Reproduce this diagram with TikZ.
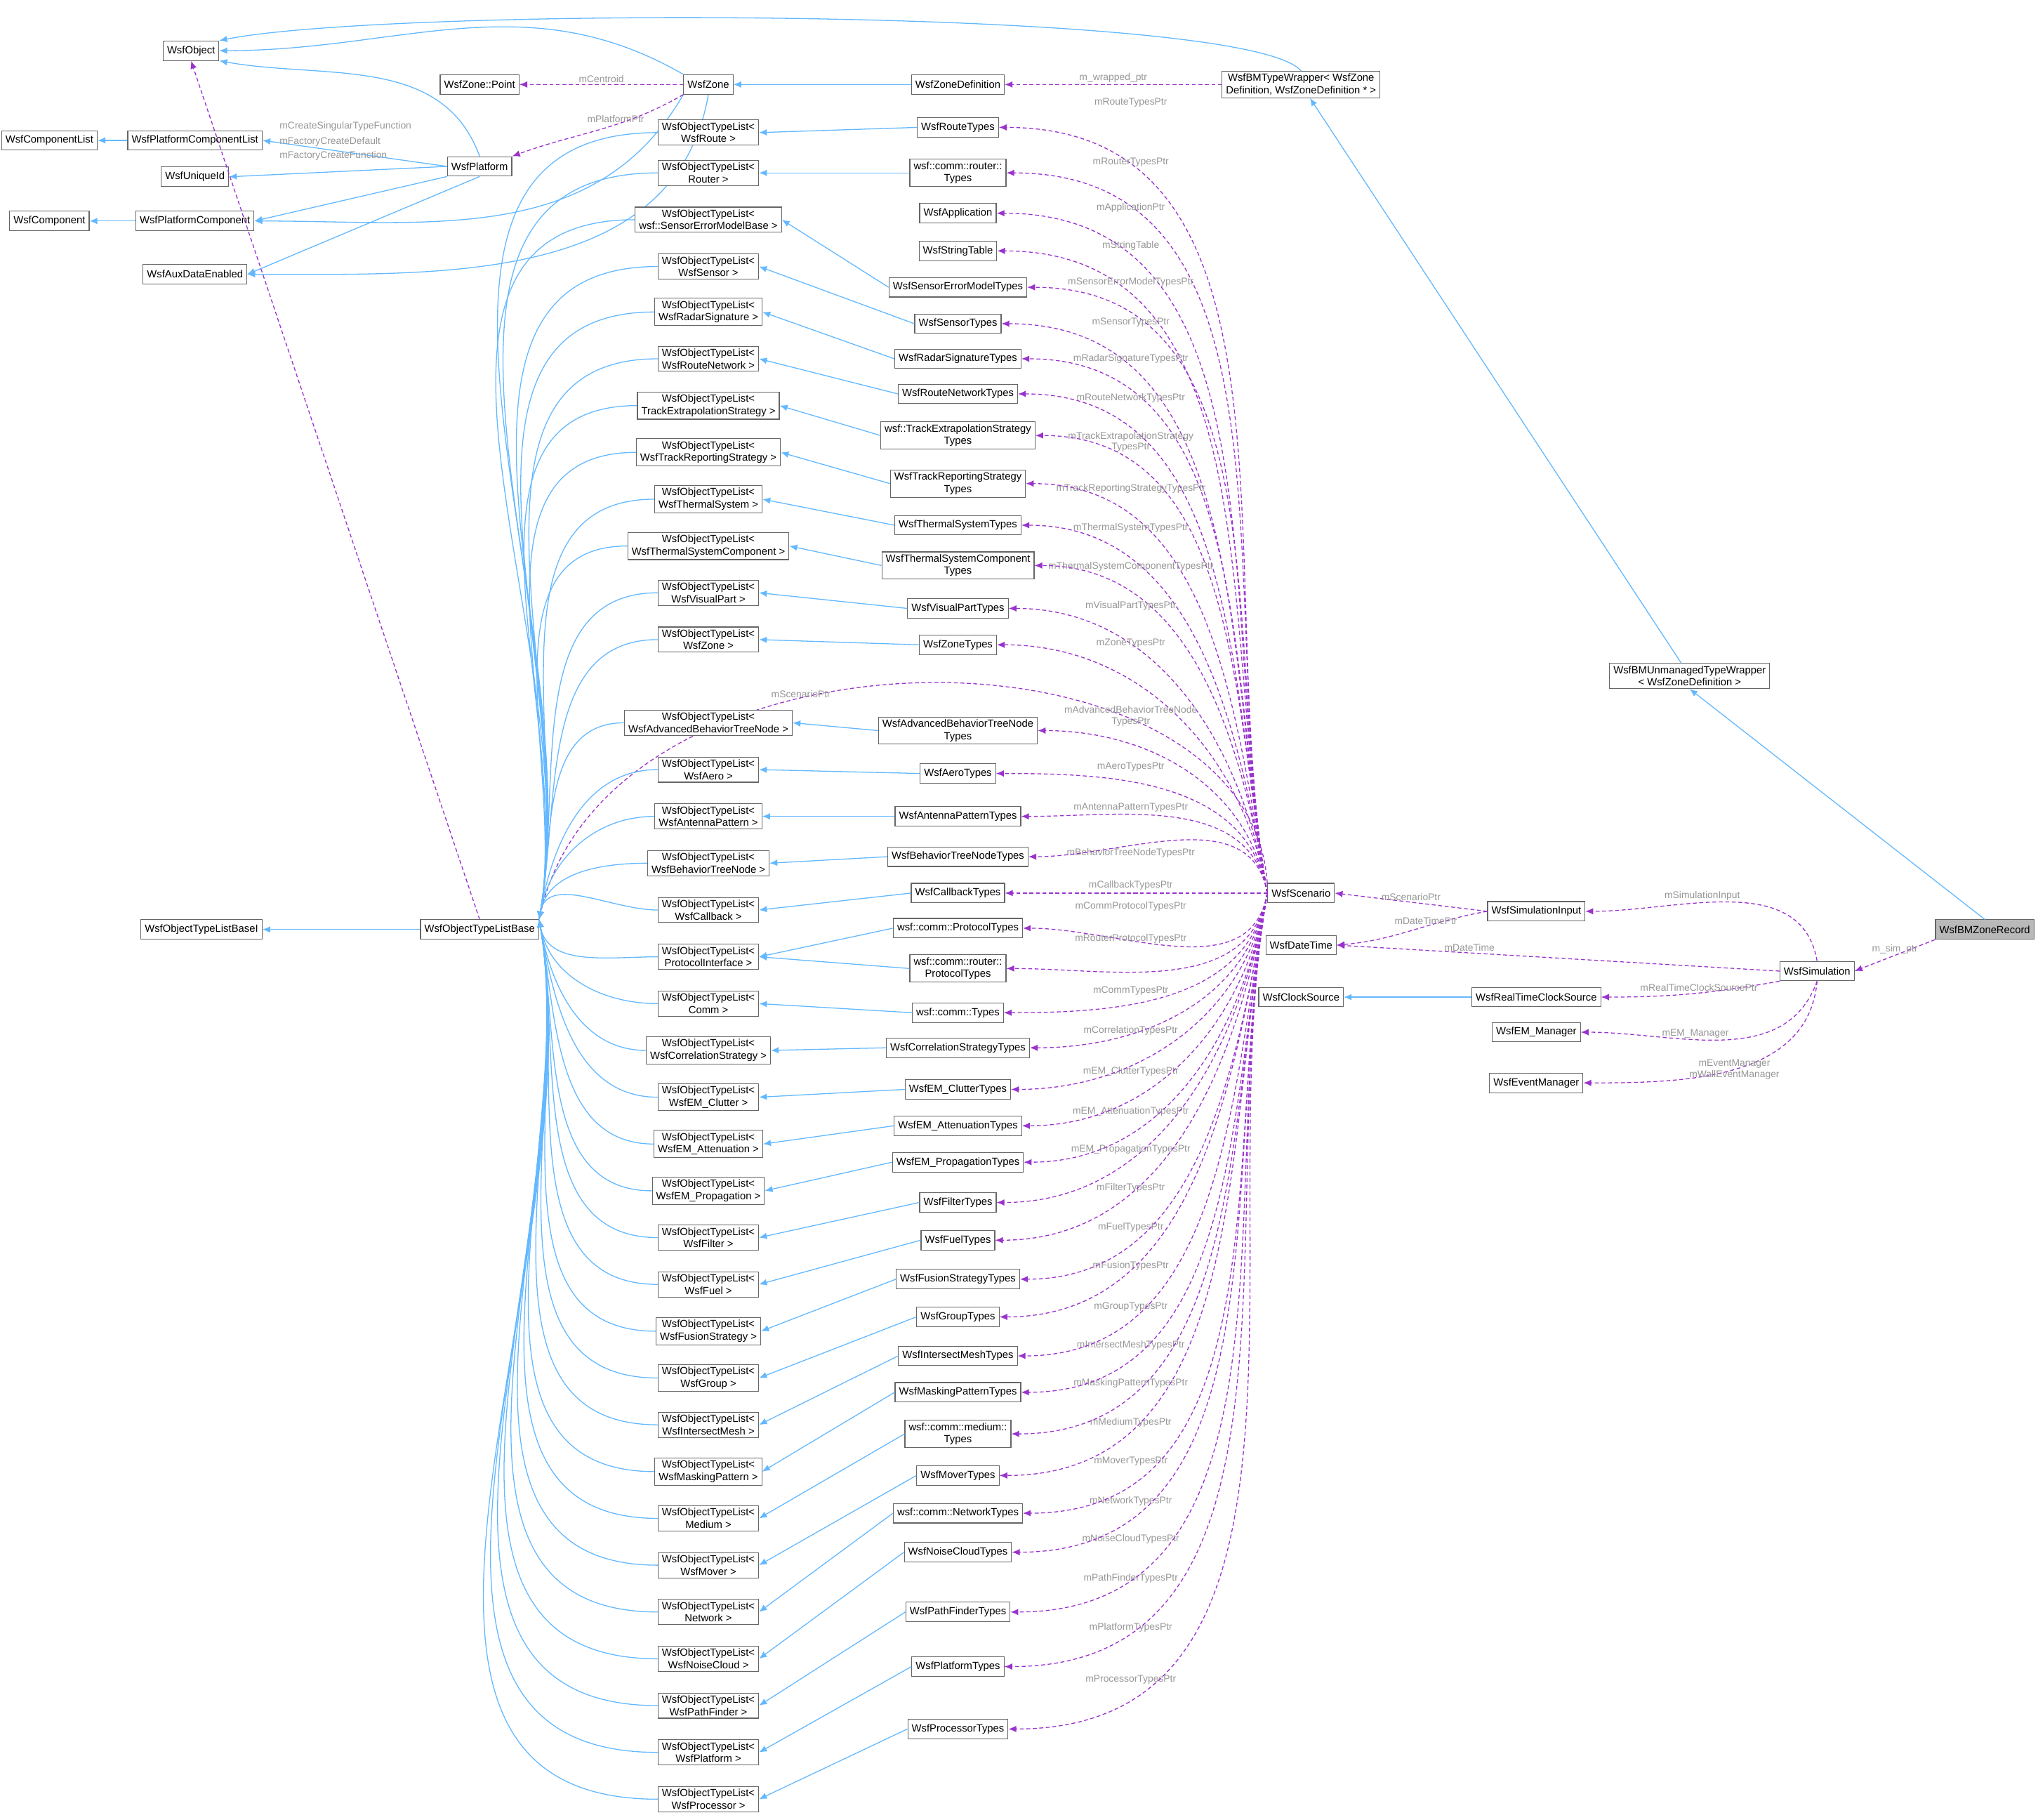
\documentclass[tikz,border=0pt]{standalone}
\usepackage{fontspec}
\setmainfont{Liberation Sans}
\usetikzlibrary{arrows.meta}
\definecolor{inhblue}{RGB}{99,184,255}
\definecolor{usepurple}{RGB}{154,50,205}
\definecolor{edgegray}{RGB}{102,102,102}
\definecolor{labgray}{RGB}{150,150,150}
\begin{document}
\begin{tikzpicture}[x=1pt,y=1pt,
    box/.style={draw=edgegray,fill=white,line width=0.6pt,align=center,font=\fontsize{8}{9.5}\selectfont,inner xsep=3pt,inner ysep=2pt,minimum height=15pt},
    inh/.style={draw=inhblue,line width=0.7pt,-{Latex[length=6pt,width=5pt]}},
    dep/.style={draw=usepurple,line width=0.7pt,dashed,dash pattern=on 3pt off 2pt,-{Latex[length=6pt,width=5pt]}},
    lab/.style={text=labgray,font=\fontsize{7.5}{8.5}\selectfont,align=center,inner sep=1pt}]
\useasboundingbox (0,0) rectangle (1568,-1400);
% top part
\node[box] (obj) at (147,-39) {WsfObject};
\node[box] (zpt) at (369,-65) {WsfZone::Point};
\node[box] (zone) at (545,-65) {WsfZone};
\node[box] (zdef) at (737,-65) {WsfZoneDefinition};
\node[box] (bmw) at (1001,-65) {WsfBMTypeWrapper< WsfZone\\Definition, WsfZoneDefinition * >};
\node[box] (cl) at (38,-108) {WsfComponentList};
\node[box] (pcl) at (150,-108) {WsfPlatformComponentList};
\node[box] (uid) at (150,-136) {WsfUniqueId};
\node[box] (plat) at (369,-128) {WsfPlatform};
\node[box] (comp) at (38,-170) {WsfComponent};
\node[box] (pcomp) at (150,-170) {WsfPlatformComponent};
\node[box] (aux) at (150,-211) {WsfAuxDataEnabled};
\node[box] (basei) at (155,-715) {WsfObjectTypeListBaseI};
\node[box] (base) at (369,-715) {WsfObjectTypeListBase};
\node[box] (unm) at (1300,-520) {WsfBMUnmanagedTypeWrapper\\< WsfZoneDefinition >};
\node[box,fill=gray!55] (rec) at (1527,-715) {WsfBMZoneRecord};
\node[box] (sc) at (1001,-687) {WsfScenario};
\node[box] (simin) at (1182,-701) {WsfSimulationInput};
\node[box] (dt) at (1001,-727) {WsfDateTime};
\node[box] (sim) at (1398,-747) {WsfSimulation};
\node[box] (clk) at (1001,-767) {WsfClockSource};
\node[box] (rtc) at (1182,-767) {WsfRealTimeClockSource};
\node[box] (emm) at (1182,-794) {WsfEM\_Manager};
\node[box] (evm) at (1182,-833) {WsfEventManager};

\draw[inh] (zone.north west) to[out=150,in=0] (obj.east);
\draw[inh] (plat.north) to[out=110,in=-10] (obj.south east);
\draw[inh] (bmw.north) .. controls (960,-5) and (300,-5) .. (obj.north east);
\draw[inh] (zdef) -- (zone);
\draw[inh] (pcl) -- (cl);
\draw[inh] (plat.west) -- (pcl.east);
\draw[inh] (plat.west) -- (uid.east);
\draw[inh] (plat.south west) -- (pcomp.east);
\draw[inh] (pcomp) -- (comp);
\draw[inh] (plat.south) -- (aux.east);
\draw[inh] (zone.south west) to[out=-120,in=0] (pcomp.east);
\draw[inh] (zone.south) to[out=-100,in=0] (aux.east);
\draw[inh] (base) -- (basei);
\draw[inh] (unm) -- (bmw);
\draw[inh] (rec.north) -- (unm.south);
\draw[inh] (rtc) -- (clk);

\draw[dep] (zone) -- node[lab,above] {mCentroid} (zpt);
\draw[dep] (zone.south west) to[out=-150,in=20] node[lab,above,pos=0.4] {mPlatformPtr} (plat.north east);
\draw[dep] (base.north) -- (obj.south);
\node[lab,anchor=west] (lc1) at (214,-97) {mCreateSingularTypeFunction};
\node[lab,anchor=west] (lc2) at (214,-109) {mFactoryCreateDefault};
\node[lab,anchor=west] (lc3) at (214,-120) {mFactoryCreateFunction};
\draw[dep] (bmw.west) -- node[lab,above] {m\_wrapped\_ptr} (zdef.east);
\draw[dep] (sc.north west) .. controls (960,-470) and (470,-470) .. node[lab,pos=0.62,above] {mScenarioPtr} (base.north east);
\draw[dep] (simin.west) -- node[lab,above] {mScenarioPtr} (sc.east);
\draw[dep] (simin.west) to[out=190,in=5] node[lab,above,pos=0.4] {mDateTimePtr} (dt.east);
\draw[dep] (sim.north) to[out=100,in=0] node[lab,above,pos=0.6] {mSimulationInput} (simin.east);
\draw[dep] (sim.west) -- node[lab,above,pos=0.7] {mDateTime} (dt.east);
\draw[dep] (sim.south west) to[out=190,in=0] node[lab,above,pos=0.45] {mRealTimeClockSourcePtr} (rtc.east);
\draw[dep] (sim.south) to[out=-110,in=0] node[lab,above,pos=0.6] {mEM\_Manager} (emm.east);
\draw[dep] (sim.south) to[out=-95,in=0] node[lab,pos=0.5] {mEventManager\\mWallEventManager} (evm.east);
\draw[dep] (rec.south west) -- node[lab,above] {m\_sim\_ptr} (sim.east);

% type lists
\foreach \n/\y/\t in {
  1/102/{WsfObjectTypeList<\\WsfRoute >},
  2/133/{WsfObjectTypeList<\\Router >},
  4/169/{WsfObjectTypeList<\\wsf::SensorErrorModelBase >},
  6/205/{WsfObjectTypeList<\\WsfSensor >},
  7/240/{WsfObjectTypeList<\\WsfRadarSignature >},
  8/276/{WsfObjectTypeList<\\WsfRouteNetwork >},
  9/312/{WsfObjectTypeList<\\TrackExtrapolationStrategy >},
  10/348/{WsfObjectTypeList<\\WsfTrackReportingStrategy >},
  11/384/{WsfObjectTypeList<\\WsfThermalSystem >},
  12/420/{WsfObjectTypeList<\\WsfThermalSystemComponent >},
  13/456/{WsfObjectTypeList<\\WsfVisualPart >},
  14/492/{WsfObjectTypeList<\\WsfZone >},
  15/556/{WsfObjectTypeList<\\WsfAdvancedBehaviorTreeNode >},
  16/592/{WsfObjectTypeList<\\WsfAero >},
  17/628/{WsfObjectTypeList<\\WsfAntennaPattern >},
  18/664/{WsfObjectTypeList<\\WsfBehaviorTreeNode >},
  19/700/{WsfObjectTypeList<\\WsfCallback >},
  20/736/{WsfObjectTypeList<\\ProtocolInterface >},
  21/772/{WsfObjectTypeList<\\Comm >},
  22/808/{WsfObjectTypeList<\\WsfCorrelationStrategy >},
  23/844/{WsfObjectTypeList<\\WsfEM\_Clutter >},
  24/880/{WsfObjectTypeList<\\WsfEM\_Attenuation >},
  25/916/{WsfObjectTypeList<\\WsfEM\_Propagation >},
  26/952/{WsfObjectTypeList<\\WsfFilter >},
  27/988/{WsfObjectTypeList<\\WsfFuel >},
  28/1024/{WsfObjectTypeList<\\WsfFusionStrategy >},
  29/1060/{WsfObjectTypeList<\\WsfGroup >},
  30/1096/{WsfObjectTypeList<\\WsfIntersectMesh >},
  31/1132/{WsfObjectTypeList<\\WsfMaskingPattern >},
  32/1168/{WsfObjectTypeList<\\Medium >},
  33/1204/{WsfObjectTypeList<\\WsfMover >},
  34/1240/{WsfObjectTypeList<\\Network >},
  35/1276/{WsfObjectTypeList<\\WsfNoiseCloud >},
  36/1312/{WsfObjectTypeList<\\WsfPathFinder >},
  37/1348/{WsfObjectTypeList<\\WsfPlatform >},
  38/1384/{WsfObjectTypeList<\\WsfProcessor >}}
{
  \node[box] (L\n) at (545,-\y) {\t};
  \pgfmathsetmacro\ang{\y<715 ? 80 : -80}
  \draw[inh] (L\n.west) to[out=180,in=\ang] (base.north east);
}

% types used by the scenario
\foreach \n/\y/\t/\lab/\ly in {
  1/98/{WsfRouteTypes}/{mRouteTypesPtr}/79,
  2/133/{wsf::comm::router::\\Types}/{mRouterTypesPtr}/125,
  3/164/{WsfApplication}/{mApplicationPtr}/160,
  5/193/{WsfStringTable}/{mStringTable}/189,
  4/221/{WsfSensorErrorModelTypes}/{mSensorErrorModelTypesPtr}/217,
  6/249/{WsfSensorTypes}/{mSensorTypesPtr}/248,
  7/276/{WsfRadarSignatureTypes}/{mRadarSignatureTypesPtr}/276,
  8/303/{WsfRouteNetworkTypes}/{mRouteNetworkTypesPtr}/306,
  9/335/{wsf::TrackExtrapolationStrategy\\Types}/{mTrackExtrapolationStrategy\\TypesPtr}/340,
  10/372/{WsfTrackReportingStrategy\\Types}/{mTrackReportingStrategyTypesPtr}/376,
  11/404/{WsfThermalSystemTypes}/{mThermalSystemTypesPtr}/406,
  12/435/{WsfThermalSystemComponent\\Types}/{mThermalSystemComponentTypesPtr}/436,
  13/468/{WsfVisualPartTypes}/{mVisualPartTypesPtr}/466,
  14/496/{WsfZoneTypes}/{mZoneTypesPtr}/495,
  15/562/{WsfAdvancedBehaviorTreeNode\\Types}/{mAdvancedBehaviorTreeNode\\TypesPtr}/551,
  16/595/{WsfAeroTypes}/{mAeroTypesPtr}/590,
  17/628/{WsfAntennaPatternTypes}/{mAntennaPatternTypesPtr}/621,
  18/659/{WsfBehaviorTreeNodeTypes}/{mBehaviorTreeNodeTypesPtr}/656,
  19/687/{WsfCallbackTypes}/{mCallbackTypesPtr}/681,
  20/714/{wsf::comm::ProtocolTypes}/{mCommProtocolTypesPtr}/697,
  39/745/{wsf::comm::router::\\ProtocolTypes}/{mRouterProtocolTypesPtr}/722,
  21/779/{wsf::comm::Types}/{mCommTypesPtr}/762,
  22/806/{WsfCorrelationStrategyTypes}/{mCorrelationTypesPtr}/793,
  23/838/{WsfEM\_ClutterTypes}/{mEM\_ClutterTypesPtr}/824,
  24/866/{WsfEM\_AttenuationTypes}/{mEM\_AttenuationTypesPtr}/855,
  25/894/{WsfEM\_PropagationTypes}/{mEM\_PropagationTypesPtr}/884,
  26/925/{WsfFilterTypes}/{mFilterTypesPtr}/914,
  27/954/{WsfFuelTypes}/{mFuelTypesPtr}/944,
  28/984/{WsfFusionStrategyTypes}/{mFusionTypesPtr}/974,
  29/1013/{WsfGroupTypes}/{mGroupTypesPtr}/1005,
  30/1043/{WsfIntersectMeshTypes}/{mIntersectMeshTypesPtr}/1035,
  31/1071/{WsfMaskingPatternTypes}/{mMaskingPatternTypesPtr}/1064,
  32/1103/{wsf::comm::medium::\\Types}/{mMediumTypesPtr}/1094,
  33/1135/{WsfMoverTypes}/{mMoverTypesPtr}/1124,
  34/1164/{wsf::comm::NetworkTypes}/{mNetworkTypesPtr}/1155,
  35/1194/{WsfNoiseCloudTypes}/{mNoiseCloudTypesPtr}/1184,
  36/1240/{WsfPathFinderTypes}/{mPathFinderTypesPtr}/1214,
  37/1282/{WsfPlatformTypes}/{mPlatformTypesPtr}/1252,
  38/1330/{WsfProcessorTypes}/{mProcessorTypesPtr}/1292}
{
  \node[box] (T\n) at (737,-\y) {\t};
  \node[lab] (M\n) at (870,-\ly) {\lab};
  \pgfmathsetmacro\ang{\y<670 ? 100 : (\y>705 ? 260 : 180)}
  \draw[dep] (sc.west) to[out=\ang,in=0] (T\n.east);
}
\foreach \a/\b in {1/1,2/2,4/4,6/6,7/7,8/8,9/9,10/10,11/11,12/12,13/13,14/14,15/15,16/16,17/17,18/18,19/19,20/20,39/20,21/21,22/22,23/23,24/24,25/25,26/26,27/27,28/28,29/29,30/30,31/31,32/32,33/33,34/34,35/35,36/36,37/37,38/38}
  \draw[inh] (T\a.west) -- (L\b.east);
\end{tikzpicture}
\end{document}
